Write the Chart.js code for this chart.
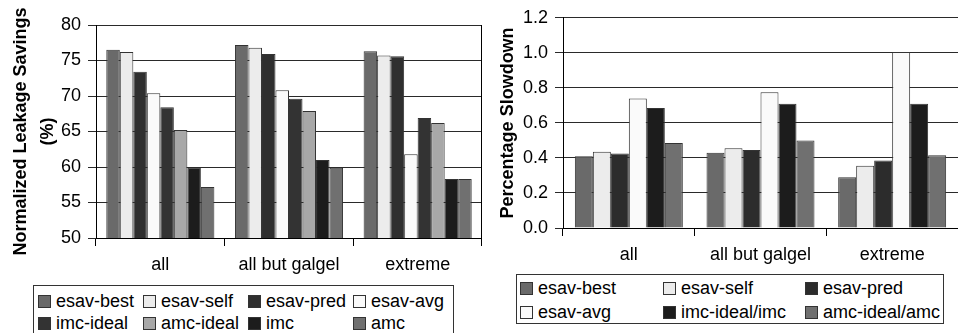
<!DOCTYPE html>
<html>
<head>
<meta charset="utf-8">
<script src="https://cdn.jsdelivr.net/npm/chart.js@4.4.1/dist/chart.umd.min.js"></script>
<style>
  html, body { margin: 0; padding: 0; background: #fff; }
  body { width: 958px; height: 333px; position: relative; overflow: hidden;
         font-family: "Liberation Sans", Arial, sans-serif; color: #000; }
  .box { position: absolute; }
  .legend { position: absolute; border: 1px solid #333; box-sizing: border-box;
            display: grid; font-size: 18px; background: #fff; }
  .legend .item { display: flex; align-items: center; white-space: nowrap; }
  .legend .sw { width: 11px; height: 11px; border: 1px solid #333; margin-right: 5px; flex: none; }
</style>
</head>
<body>
<div class="box" id="wrap1" style="left:0;top:0;width:482px;height:282px;"><canvas id="leak"></canvas></div>
<div class="box" id="wrap2" style="left:480px;top:0;width:478px;height:272px;"><canvas id="slow"></canvas></div>
<div class="legend" id="leg1" style="left:33px;top:285px;width:421px;height:52px;padding:4px 0 0 4px;grid-template-columns:105px 105px 105px 105px;grid-auto-rows:22px;"></div>
<div class="legend" id="leg2" style="left:516px;top:274px;width:428px;height:50px;padding:1px 0 0 3px;grid-template-columns:143px 142px 140px;grid-auto-rows:24px;"></div>
<script>
// categories
const categories = ['all', 'all but galgel', 'extreme'];

// leakage savings (%)
const leakNames = ['esav-best', 'esav-self', 'esav-pred', 'esav-avg', 'imc-ideal', 'amc-ideal', 'imc', 'amc'];
const leakEsavBest = [76.5, 77.2, 76.3];
const leakEsavSelf = [76.2, 76.8, 75.7];
const leakEsavPred = [73.4, 75.9, 75.6];
const leakEsavAvg  = [70.4, 70.8, 61.8];
const leakImcIdeal = [68.4, 69.6, 66.9];
const leakAmcIdeal = [65.2, 67.9, 66.2];
const leakImc      = [59.9, 61.0, 58.3];
const leakAmc      = [57.2, 59.9, 58.3];
const leakTicks = [50, 55, 60, 65, 70, 75, 80];

// percentage slowdown
const slowNames = ['esav-best', 'esav-self', 'esav-pred', 'esav-avg', 'imc-ideal/imc', 'amc-ideal/amc'];
const slowEsavBest = [0.41, 0.43, 0.29];
const slowEsavSelf = [0.435, 0.455, 0.355];
const slowEsavPred = [0.425, 0.445, 0.385];
const slowEsavAvg  = [0.74, 0.775, 1.005];
const slowImc      = [0.685, 0.71, 0.71];
const slowAmc      = [0.485, 0.50, 0.415];
const slowTicks = [0.0, 0.2, 0.4, 0.6, 0.8, 1.0, 1.2];

const leakColors = ['#6a6a6a', '#ececec', '#2f2f2f', '#fafafa', '#333333', '#a8a8a8', '#1c1c1c', '#707070'];
const slowColors = ['#6a6a6a', '#ececec', '#2c2c2c', '#fafafa', '#1c1c1c', '#707070'];

const FONT = '"Liberation Sans", Arial, sans-serif';

function makeSets(names, values, colors, catPct) {
  return names.map((n, i) => ({
    label: n,
    data: values[i],
    backgroundColor: colors[i],
    borderColor: '#333',
    borderWidth: 1,
    categoryPercentage: catPct,
    barPercentage: 1
  }));
}

// right border of the plot frame
const frameRight = {
  id: 'frameRight',
  afterDraw(chart, args, opts) {
    if (!opts.show) return;
    const a = chart.chartArea, c = chart.ctx;
    c.save();
    c.strokeStyle = '#000';
    c.lineWidth = 1;
    c.beginPath();
    c.moveTo(Math.round(a.right) - 0.5, a.top);
    c.lineTo(Math.round(a.right) - 0.5, a.bottom + 8);
    c.stroke();
    c.restore();
  }
};

function opts(ticks, yTitle, titlePad, yWidth, xHeight, padTop, fmt, showRight) {
  return {
    responsive: true,
    maintainAspectRatio: false,
    animation: false,
    layout: { padding: { top: padTop, right: 0, left: 0, bottom: 0 } },
    plugins: { legend: { display: false }, tooltip: { enabled: false }, frameRight: { show: showRight } },
    scales: {
      x: {
        grid: { offset: true, drawOnChartArea: false, color: '#000', tickLength: 8 },
        border: { color: '#000' },
        ticks: { color: '#000', font: { family: FONT, size: 18 }, padding: 8 },
        afterFit: s => { s.height = xHeight; }
      },
      y: {
        min: ticks[0],
        max: ticks[ticks.length - 1],
        afterBuildTicks: s => { s.ticks = ticks.map(v => ({ value: v })); },
        ticks: { color: '#000', font: { family: FONT, size: 18 }, padding: 7, callback: fmt },
        grid: { color: '#2a2a2a', tickLength: 8 },
        border: { color: '#000' },
        title: { display: true, text: yTitle, color: '#000', padding: { top: titlePad, bottom: 0 },
                 font: { family: FONT, size: 18, weight: 'bold', lineHeight: 1.5 } },
        afterFit: s => { s.width = yWidth; }
      }
    }
  };
}

new Chart(document.getElementById('leak'), {
  type: 'bar',
  data: {
    labels: categories,
    datasets: makeSets(leakNames,
      [leakEsavBest, leakEsavSelf, leakEsavPred, leakEsavAvg, leakImcIdeal, leakAmcIdeal, leakImc, leakAmc],
      leakColors, 0.84)
  },
  options: opts(leakTicks, ['Normalized Leakage Savings', '(%)'], 8, 96, 44, 25, v => v, true),
  plugins: [frameRight]
});

new Chart(document.getElementById('slow'), {
  type: 'bar',
  data: {
    labels: categories,
    datasets: makeSets(slowNames,
      [slowEsavBest, slowEsavSelf, slowEsavPred, slowEsavAvg, slowImc, slowAmc],
      slowColors, 0.82)
  },
  options: opts(slowTicks, 'Percentage Slowdown', 15, 83, 44, 15, v => v.toFixed(1), false),
  plugins: [frameRight]
});

// legends
function buildLegend(el, names, colors) {
  names.forEach((n, i) => {
    const it = document.createElement('div');
    it.className = 'item';
    const sw = document.createElement('span');
    sw.className = 'sw';
    sw.style.background = colors[i];
    const tx = document.createElement('span');
    tx.textContent = n;
    it.appendChild(sw);
    it.appendChild(tx);
    el.appendChild(it);
  });
}
buildLegend(document.getElementById('leg1'), leakNames, leakColors);
buildLegend(document.getElementById('leg2'), slowNames, slowColors);
</script>
</body>
</html>
